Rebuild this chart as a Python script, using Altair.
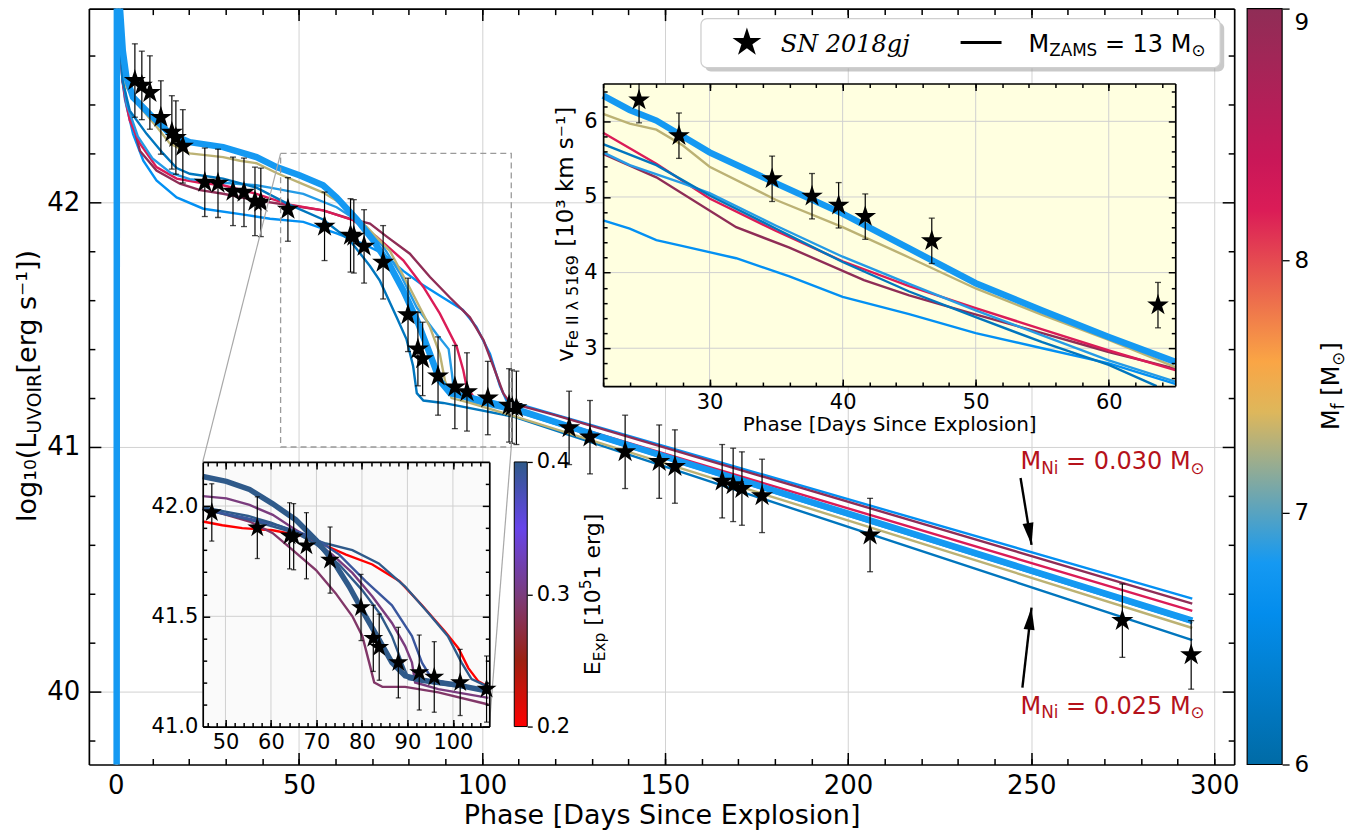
import altair as alt
import pandas as pd

W, H = 1147, 757
FONT = "DejaVu Sans"

# ---------------- observed SN 2018gj data ----------------
sn_phase = [5.2, 7.1, 9.3, 12.3, 15.3, 16.4, 18.3, 24.3, 27.9, 32.0, 35.0, 38.0, 39.6,
            47.0, 57.0, 64.1, 65.0, 67.8, 73.0, 79.8, 82.5, 83.8, 88.0, 92.6, 95.9,
            101.6, 107.4, 108.2, 109.4, 123.8, 129.5, 139.1, 148.4, 152.7, 165.6,
            168.6, 171.0, 176.5, 206.0, 274.9, 293.7]
sn_logL = [42.498, 42.478, 42.449, 42.347, 42.286, 42.265, 42.229, 42.082, 42.078, 42.045, 42.041, 42.004, 42.000,
           41.971, 41.902, 41.865, 41.861, 41.820, 41.755, 41.540, 41.400, 41.360, 41.290, 41.245, 41.225,
           41.200, 41.170, 41.165, 41.160, 41.078, 41.040, 40.980, 40.940, 40.920, 40.860,
           40.845, 40.830, 40.800, 40.640, 40.290, 40.150]
sn_err = [0.15, 0.14, 0.15, 0.15, 0.15, 0.15, 0.15, 0.14, 0.14, 0.14, 0.14, 0.14, 0.14,
          0.13, 0.14, 0.15, 0.15, 0.15, 0.15, 0.15, 0.15, 0.15, 0.16, 0.17, 0.16,
          0.15, 0.15, 0.15, 0.15, 0.15, 0.15, 0.15, 0.15, 0.15, 0.15,
          0.15, 0.15, 0.15, 0.15, 0.15, 0.14]

vel_phase = [24.7, 27.7, 34.7, 37.7, 39.7, 41.7, 46.7, 63.7]
vel_v = [6.28, 5.81, 5.24, 5.01, 4.89, 4.74, 4.42, 3.57]
vel_err = [0.30, 0.30, 0.30, 0.30, 0.30, 0.30, 0.30, 0.30]

# ---------------- model light curves (M_ZAMS = 13) ----------------
mf_thick, mf_tan, mf_dark, mf_lightA, mf_crimson, mf_maroon, mf_lightB = 6.8, 7.3, 6.2, 6.85, 8.2, 9.0, 6.65

lc_thick_t = [0.2, 0.3, 1.1, 1.9, 2.9, 4.7, 9.3, 14.8, 20.2, 29.3, 38.4, 43.9, 50.3, 56.6, 60.3, 65.8, 70.3,
              74.9, 78.5, 82.2, 85.8, 88.5, 91.3, 101.3, 108.6, 129.5, 294]
lc_thick_L = [38.5, 44.0, 42.8, 42.62, 42.51, 42.43, 42.36, 42.28, 42.246, 42.226, 42.185, 42.144, 42.11, 42.07,
              42.02, 41.93, 41.845, 41.74, 41.64, 41.52, 41.38, 41.27, 41.22, 41.185, 41.158, 41.056, 40.29]
lc_tan_t = [0.2, 0.3, 1.1, 1.9, 2.9, 6.6, 11.1, 14.8, 20.2, 29.3, 33.9, 38.4, 43.9, 50.3, 56.6, 62.1, 68.5,
            74.9, 80.3, 85.8, 88.5, 89.9, 91.7, 96.7, 110, 294]
lc_tan_L = [38.5, 44.0, 42.75, 42.57, 42.47, 42.39, 42.31, 42.24, 42.20, 42.185, 42.17, 42.16, 42.12, 42.08,
            42.04, 41.99, 41.90, 41.80, 41.65, 41.49, 41.38, 41.27, 41.20, 41.18, 41.12, 40.26]
lc_dark_t = [0.2, 0.3, 1.0, 1.8, 3.8, 8.4, 12.9, 16.6, 20.2, 29.3, 38.4, 47.5, 56.6, 63.9, 69.4, 72.1, 76.7,
             79.4, 81.2, 82.2, 84.0, 89.4, 108.6, 294]
lc_dark_L = [38.5, 44.0, 42.7, 42.5, 42.375, 42.28, 42.20, 42.14, 42.117, 42.097, 42.06, 41.99, 41.93, 41.845,
             41.74, 41.68, 41.53, 41.44, 41.33, 41.22, 41.19, 41.18, 41.124, 40.21]
lc_lightA_t = [0.2, 0.3, 1.0, 1.8, 3.0, 6.0, 10.0, 15.0, 20.2, 29.3, 38.4, 42.1, 51.2, 60.3, 67.6, 73.0, 77.6,
               82.2, 87.7, 90.9, 91.8, 92.4, 96.9, 110, 294]
lc_lightA_L = [38.5, 44.0, 42.72, 42.52, 42.40, 42.27, 42.18, 42.12, 42.095, 42.08, 42.07, 42.06, 42.035, 41.98,
               41.91, 41.82, 41.71, 41.57, 41.46, 41.40, 41.30, 41.22, 41.185, 41.14, 40.28]
lc_crimson_t = [0.2, 0.3, 1.0, 1.8, 2.5, 3.8, 6.6, 11.1, 16.6, 23.0, 29.3, 38.4, 47.5, 56.6, 64.8, 71.2, 78.5,
                84.0, 88.5, 93.1, 94.9, 95.8, 98.6, 110, 294]
lc_crimson_L = [38.5, 44.0, 42.7, 42.5, 42.43, 42.335, 42.24, 42.144, 42.097, 42.08, 42.07, 42.035, 41.99, 41.967,
                41.927, 41.86, 41.763, 41.654, 41.545, 41.41, 41.314, 41.246, 41.185, 41.15, 40.33]
lc_maroon_t = [0.2, 0.3, 1.0, 1.8, 2.9, 6.6, 11.1, 17.5, 23.0, 29.3, 38.4, 47.5, 56.6, 63.9, 69.4, 74.0, 80.3,
               85.8, 91.3, 96.7, 100.4, 103.1, 105.8, 107.7, 120, 294]
lc_maroon_L = [38.5, 44.0, 42.7, 42.5, 42.416, 42.21, 42.13, 42.076, 42.05, 42.035, 42.008, 41.988, 41.967, 41.933,
               41.913, 41.86, 41.79, 41.695, 41.61, 41.53, 41.437, 41.33, 41.22, 41.18, 41.13, 40.36]
lc_lightB_t = [0.2, 0.3, 1.0, 1.8, 2.5, 4.7, 7.5, 11.1, 16.6, 23.9, 34.9, 42.1, 51.2, 60.3, 67.6, 73.0, 78.5,
               83.0, 89.4, 94.8, 98.5, 102.2, 104.9, 106.7, 294]
lc_lightB_L = [38.5, 44.0, 42.7, 42.5, 42.42, 42.28, 42.17, 42.09, 42.02, 41.974, 41.95, 41.933, 41.92, 41.873,
               41.83, 41.79, 41.72, 41.67, 41.61, 41.56, 41.49, 41.38, 41.25, 41.19, 40.38]

# ---------------- model Fe II velocities ----------------
v_thick_t = [22, 24, 26, 30, 35, 40, 45, 50, 55, 60, 65]
v_thick_v = [6.34, 6.15, 6.01, 5.59, 5.18, 4.78, 4.32, 3.86, 3.50, 3.15, 2.82]
v_tan_t = [22, 24, 26, 28, 30, 35, 40, 45, 50, 55, 60, 65]
v_tan_v = [6.10, 5.97, 5.89, 5.68, 5.40, 4.96, 4.60, 4.20, 3.79, 3.44, 3.11, 2.75]
v_crimson_t = [22, 26, 30, 35, 40, 45, 50, 55, 60, 65]
v_crimson_v = [5.85, 5.44, 4.98, 4.55, 4.15, 3.82, 3.53, 3.25, 2.97, 2.71]
v_dark_t = [22, 26, 30, 35, 40, 45, 50, 55, 60, 63.6]
v_dark_v = [5.70, 5.42, 5.02, 4.58, 4.14, 3.75, 3.41, 3.08, 2.78, 2.50]
v_lightA_t = [22, 24, 28, 30, 35, 40, 45, 50, 55, 60, 65]
v_lightA_v = [5.59, 5.42, 5.18, 5.05, 4.62, 4.21, 3.85, 3.50, 3.17, 2.84, 2.56]
v_maroon_t = [22, 26, 32, 36, 41.6, 45, 49.7, 55, 60, 65]
v_maroon_v = [5.57, 5.26, 4.60, 4.33, 3.90, 3.70, 3.46, 3.20, 2.95, 2.73]
v_lightB_t = [22, 24, 26, 28, 32, 36, 40, 45, 50, 55, 60, 65]
v_lightB_v = [4.69, 4.58, 4.43, 4.35, 4.19, 3.95, 3.68, 3.45, 3.20, 3.00, 2.80, 2.53]

# ---------------- explosion-energy models (zoom inset) ----------------
e_thick, e_red, e_purA, e_purB, e_stA, e_stB, e_stC = 0.40, 0.20, 0.30, 0.29, 0.40, 0.39, 0.40
ee_thick_t = [45, 50.2, 55.3, 60.4, 65.5, 69.9, 73.5, 77.2, 80.8, 83.7, 86.6, 89.5, 93.2, 100.5, 107.8]
ee_thick_L = [42.134, 42.112, 42.075, 42.01, 41.937, 41.846, 41.756, 41.635, 41.50, 41.396, 41.29, 41.23, 41.21, 41.19, 41.16]
ee_red_t = [45, 49.3, 53.7, 60.4, 67.7, 72.1, 76.5, 82.3, 88.2, 93.2, 98.3, 101.2, 103.4, 105.6, 107.8]
ee_red_L = [41.93, 41.913, 41.90, 41.89, 41.86, 41.82, 41.78, 41.735, 41.66, 41.55, 41.43, 41.355, 41.265, 41.205, 41.18]
ee_purA_t = [45, 50.2, 55.3, 60.4, 64.8, 69.2, 73.5, 77.9, 82.3, 86.6, 89.5, 91.0, 91.7, 96.8, 107.8]
ee_purA_L = [42.045, 42.035, 42.005, 41.96, 41.90, 41.846, 41.78, 41.697, 41.59, 41.47, 41.365, 41.29, 41.20, 41.17, 41.13]
ee_purB_t = [45, 50.2, 55.3, 60.4, 64.8, 69.9, 74.2, 77.9, 80.1, 81.6, 82.7, 84.5, 89.5, 96.8, 107.8]
ee_purB_L = [41.99, 41.96, 41.93, 41.877, 41.80, 41.71, 41.605, 41.50, 41.41, 41.29, 41.20, 41.18, 41.18, 41.155, 41.10]
ee_stA_t = [45, 55, 65, 72.1, 77.9, 83.7, 89.5, 94.6, 98.9, 101.9, 104.1, 107.8]
ee_stA_L = [41.985, 41.94, 41.88, 41.83, 41.80, 41.74, 41.635, 41.515, 41.41, 41.29, 41.215, 41.18]
ee_stB_t = [45, 53.7, 61.9, 69.2, 75.0, 80.8, 86.6, 91.0, 93.2, 95.4, 100.5, 107.8]
ee_stB_L = [41.986, 41.95, 41.91, 41.86, 41.78, 41.66, 41.55, 41.41, 41.29, 41.215, 41.19, 41.155]
ee_stC_t = [45, 50, 55, 60, 65, 70, 75, 80, 84, 86.6, 88.8, 90.3, 95, 100, 107.8]
ee_stC_L = [41.995, 41.975, 41.955, 41.925, 41.885, 41.825, 41.735, 41.62, 41.51, 41.41, 41.29, 41.215, 41.2, 41.185, 41.165]

# ---------------- annotation values ----------------
ni_labels = ["0.030", "0.025"]
ni_arrow_tail_t = [247.1, 247.6]
ni_arrow_tail_L = [40.873, 40.016]
ni_arrow_tip_t = [250.1, 250.1]
ni_arrow_tip_L = [40.60, 40.343]

# colour maps
MF_DOMAIN = [6.0, 6.75, 7.5, 8.25, 9.0]
MF_COLORS = ["#006ba6", "#0496ff", "#ffbc42", "#d81159", "#8f2d56"]
E_DOMAIN = [0.2, 0.25, 0.3, 0.35, 0.4]
E_COLORS = ["#ff0000", "#9c2112", "#7a3c7e", "#6744ea", "#2f5a8a"]

STAR = ("M0,-1L0.2245,-0.309L0.9511,-0.309L0.3633,0.118L0.5878,0.809L0,0.382"
        "L-0.5878,0.809L-0.3633,0.118L-0.9511,-0.309L-0.2245,-0.309Z")
HEAD = "M0,0L-0.5,-2L0.5,-2Z"

# ---------------- scales ----------------
MX = ([-7.364, 305.45], [0, W])
MY = ([39.702, 42.792], [H, 0])
I1X = ([22, 65], [515, 1088])
I1Y = ([2.5, 6.5], [378, 75])
I2X = ([45, 108], [114, 401])
I2Y = ([41.0, 42.2], [719, 454])
MFY = ([6, 9], [H, 0])
EY = ([0.2, 0.4], [719, 454])


def S(sc, clamp=False):
    kw = dict(domain=sc[0], range=sc[1], nice=False, zero=False)
    if clamp:
        kw["clamp"] = True
    return alt.Scale(**kw)


def ax(**kw):
    base = dict(labelFont=FONT, labelColor="black", titleFont=FONT, titleColor="black",
                titleFontWeight="normal", grid=False, domain=False, ticks=False, labels=False,
                title=None, labelFlush=False, labelOverlap=False)
    base.update(kw)
    return alt.Axis(**base)


def axis_layer(xs, ys, xaxis=None, yaxis=None):
    d = pd.DataFrame({"a": [xs[0][0]], "b": [ys[0][0]]})
    return alt.Chart(d).mark_point(opacity=0).encode(
        x=alt.X("a:Q", scale=S(xs), axis=xaxis),
        y=alt.Y("b:Q", scale=S(ys), axis=yaxis))


def frame_axes(xs, ys, x0, x1, y0, y1, xmaj, xmin, ymaj, ymin, big, small, z):
    TK = dict(ticks=True, tickColor="black", tickWidth=1.5, zindex=z)
    DM = dict(domain=True, domainColor="black", domainWidth=1.7)
    out = []
    out.append(axis_layer(xs, ys, ax(orient="top", offset=-y1, values=xmaj, tickSize=big, **TK, **DM),
                          ax(orient="right", offset=x0 - W, values=ymaj, tickSize=big, **TK, **DM)))
    out.append(axis_layer(xs, ys, ax(orient="top", offset=-y1, values=xmin, tickSize=small, **TK),
                          ax(orient="right", offset=x0 - W, values=ymin, tickSize=small, **TK)))
    out.append(axis_layer(xs, ys, ax(orient="bottom", offset=y0 - H, values=xmaj, tickSize=big, **TK, **DM),
                          ax(orient="left", offset=-x1, values=ymaj, tickSize=big, **TK, **DM)))
    out.append(axis_layer(xs, ys, ax(orient="bottom", offset=y0 - H, values=xmin, tickSize=small, **TK),
                          ax(orient="left", offset=-x1, values=ymin, tickSize=small, **TK)))
    return out


def models_df(models):
    rows = []
    for name, val, ts, ys in models:
        for i, (t, y) in enumerate(zip(ts, ys)):
            rows.append(dict(model=name, m=val, t=t, L=y, i=i))
    return pd.DataFrame(rows)


def line_layer(df, xs, ys, width, cscale, legend=None, clip=False):
    return alt.Chart(df).mark_line(strokeWidth=width, clip=clip).encode(
        x=alt.X("t:Q", scale=S(xs), axis=None),
        y=alt.Y("L:Q", scale=S(ys), axis=None),
        color=alt.Color("m:Q", scale=cscale, legend=legend),
        detail="model:N",
        order=alt.Order("i:Q"))


def err_layers(t, y, e, xs, ys, clamp=False, cap=6):
    lo = [a - b for a, b in zip(y, e)]
    hi = [a + b for a, b in zip(y, e)]
    d = pd.DataFrame({"t": t, "lo": lo, "hi": hi})
    bars = alt.Chart(d).mark_rule(color="black", strokeWidth=1.2).encode(
        x=alt.X("t:Q", scale=S(xs), axis=None),
        y=alt.Y("lo:Q", scale=S(ys, clamp), axis=None),
        y2="hi:Q")
    ct, cv = [], []
    for a, l, h in zip(t, lo, hi):
        for v in (l, h):
            if ys[0][0] <= v <= ys[0][1]:
                ct.append(a)
                cv.append(v)
    caps = alt.Chart(pd.DataFrame({"t": ct, "v": cv})).mark_tick(
        orient="horizontal", size=cap, thickness=1.3, color="black").encode(
        x=alt.X("t:Q", scale=S(xs), axis=None),
        y=alt.Y("v:Q", scale=S(ys), axis=None))
    return [bars, caps]


def star_layer(t, y, xs, ys, size):
    d = pd.DataFrame({"t": t, "y": y})
    return alt.Chart(d).mark_point(shape=STAR, filled=True, color="black", opacity=1,
                                   size=size, strokeWidth=0).encode(
        x=alt.X("t:Q", scale=S(xs), axis=None),
        y=alt.Y("y:Q", scale=S(ys), axis=None))


# ---------------- rich text helper ----------------
CW = {" ": 0.318, "(": 0.390, ")": 0.390, "[": 0.390, "]": 0.390, "=": 0.838, ".": 0.318,
      "⁻": 0.50, "¹": 0.40, "³": 0.40, "₁": 0.40, "₀": 0.40, "⊙": 0.838, "λ": 0.592,
      "A": 0.684, "D": 0.770, "E": 0.632, "F": 0.575, "I": 0.295, "L": 0.557, "M": 0.863,
      "N": 0.748, "O": 0.787, "P": 0.603, "R": 0.695, "S": 0.635, "U": 0.732, "V": 0.684,
      "Z": 0.685, "a": 0.613, "c": 0.550, "d": 0.635, "e": 0.615, "f": 0.352, "g": 0.635,
      "h": 0.634, "i": 0.278, "j": 0.278, "k": 0.579, "l": 0.278, "m": 0.974, "n": 0.634,
      "o": 0.612, "p": 0.635, "r": 0.411, "s": 0.521, "t": 0.392, "v": 0.592, "x": 0.592,
      "y": 0.592}
for _d in "0123456789":
    CW[_d] = 0.636


def tw(s, f):
    return sum(CW.get(ch, 0.6) for ch in s) * f


def rich(segs, x0, y0, fs, angle=0, color="black", center=False):
    items, pos = [], 0.0
    for s, kind in segs:
        f = fs if kind == "n" else round(fs * 0.7, 1)
        shift = 0.0 if kind == "n" else (0.2 * fs if kind == "sub" else -0.42 * fs)
        pos += (len(s) - len(s.lstrip(" "))) * CW[" "] * f
        core = s.strip(" ")
        items.append((core, f, shift, pos))
        pos += tw(core, f)
        pos += (len(s) - len(s.rstrip(" "))) * CW[" "] * f
    total = pos
    rows = []
    for core, f, shift, p in items:
        if angle == 0:
            rows.append(dict(t=core, x=x0 + p, y=y0 + shift, fs=f, a=0, c=color))
        else:
            start = y0 + total / 2 if center else y0
            rows.append(dict(t=core, x=x0 + shift, y=start - p, fs=f, a=270, c=color))
    return rows


def text_layer(rows, font=FONT, style="normal"):
    return alt.Chart(pd.DataFrame(rows)).mark_text(
        align="left", baseline="alphabetic", font=font, fontStyle=style).encode(
        x=alt.X("x:Q", scale=None), y=alt.Y("y:Q", scale=None), text="t:N",
        size=alt.Size("fs:Q", scale=None), angle=alt.Angle("a:Q", scale=None),
        color=alt.Color("c:N", scale=None))


mf_scale = alt.Scale(domain=MF_DOMAIN, range=MF_COLORS, interpolate="rgb")
e_scale = alt.Scale(domain=E_DOMAIN, range=E_COLORS, interpolate="rgb")

layers = []

# ---------- main axes with grid ----------
xt_major = [0, 50, 100, 150, 200, 250, 300]
xt_minor = list(range(0, 301, 10))
yt_major = [40, 41, 42]
yt_minor = [39.8, 40.2, 40.4, 40.6, 40.8, 41.2, 41.4, 41.6, 41.8, 42.2, 42.4, 42.6]
layers.append(axis_layer(
    MX, MY,
    ax(orient="bottom", values=xt_major, labels=True, labelFontSize=26, labelPadding=8, tickSize=0,
       grid=True, gridColor="#d2d2d2", gridWidth=1, title="Phase [Days Since Explosion]",
       titleFontSize=27, titlePadding=4),
    ax(orient="left", values=yt_major, labels=True, labelFontSize=26, labelPadding=9, tickSize=0,
       grid=True, gridColor="#d2d2d2", gridWidth=1, format="d")))

# ---------- main model light curves ----------
lc_thin = models_df([
    ("lightB", mf_lightB, lc_lightB_t, lc_lightB_L),
    ("maroon", mf_maroon, lc_maroon_t, lc_maroon_L),
    ("crimson", mf_crimson, lc_crimson_t, lc_crimson_L),
    ("lightA", mf_lightA, lc_lightA_t, lc_lightA_L),
    ("dark", mf_dark, lc_dark_t, lc_dark_L),
    ("tan", mf_tan, lc_tan_t, lc_tan_L)])
lc_best = models_df([("thick", mf_thick, lc_thick_t, lc_thick_L)])
mf_legend = alt.Legend(orient="none", legendX=1160, legendY=0, direction="vertical", type="gradient",
                       gradientLength=H, gradientThickness=35, title=None, labelExpr="''",
                       gradientStrokeColor="black", gradientStrokeWidth=1.2, padding=0)
layers.append(line_layer(lc_thin, MX, MY, 2.4, mf_scale, legend=mf_legend, clip=True))
layers.append(line_layer(lc_best, MX, MY, 6.5, mf_scale, clip=True))
layers += err_layers(sn_phase, sn_logL, sn_err, MX, MY, cap=6)
layers.append(star_layer(sn_phase, sn_logL, MX, MY, 540))

# ---------- zoom box and connectors ----------
box = pd.DataFrame({"x0": [45.0], "x1": [108.0], "y0": [41.0], "y1": [42.2]})
layers.append(alt.Chart(box).mark_rect(fillOpacity=0, stroke="#9a9a9a", strokeWidth=1.3,
                                       strokeDash=[6, 4]).encode(
    x=alt.X("x0:Q", scale=S(MX), axis=None), x2="x1:Q",
    y=alt.Y("y0:Q", scale=S(MY), axis=None), y2="y1:Q"))
conn = pd.DataFrame({"x": [45.0, 108.0], "y": [42.2, 41.0], "x2": [23.73, 102.0], "y2": [40.939, 39.857]})
layers.append(alt.Chart(conn).mark_rule(color="#a8a8a8", strokeWidth=1.2).encode(
    x=alt.X("x:Q", scale=S(MX), axis=None), x2="x2:Q",
    y=alt.Y("y:Q", scale=S(MY), axis=None), y2="y2:Q"))

# ---------- M_Ni arrows ----------
arr = pd.DataFrame({"x": ni_arrow_tail_t, "y": ni_arrow_tail_L, "x2": ni_arrow_tip_t, "y2": ni_arrow_tip_L})
layers.append(alt.Chart(arr).mark_rule(color="black", strokeWidth=2.4).encode(
    x=alt.X("x:Q", scale=S(MX), axis=None), x2="x2:Q",
    y=alt.Y("y:Q", scale=S(MY), axis=None), y2="y2:Q"))
heads = pd.DataFrame({"x": ni_arrow_tip_t, "y": ni_arrow_tip_L, "ang": [350.7, 186.4]})
layers.append(alt.Chart(heads).mark_point(shape=HEAD, filled=True, color="black", opacity=1,
                                          size=484, strokeWidth=0).encode(
    x=alt.X("x:Q", scale=S(MX), axis=None),
    y=alt.Y("y:Q", scale=S(MY), axis=None),
    angle=alt.Angle("ang:Q", scale=None)))

# ---------- inset 1: Fe II velocities ----------
bg1 = pd.DataFrame({"x0": [22.0], "x1": [65.0], "y0": [2.5], "y1": [6.5]})
layers.append(alt.Chart(bg1).mark_rect(fill="#ffffe0", stroke=None).encode(
    x=alt.X("x0:Q", scale=S(I1X), axis=None), x2="x1:Q",
    y=alt.Y("y0:Q", scale=S(I1Y), axis=None), y2="y1:Q"))
g1v = pd.DataFrame({"g": [30, 40, 50, 60], "lo": [2.5] * 4, "hi": [6.5] * 4})
layers.append(alt.Chart(g1v).mark_rule(color="#d0d0d0", strokeWidth=1).encode(
    x=alt.X("g:Q", scale=S(I1X), axis=None),
    y=alt.Y("lo:Q", scale=S(I1Y), axis=None), y2="hi:Q"))
g1h = pd.DataFrame({"g": [3, 4, 5, 6], "lo": [22.0] * 4, "hi": [65.0] * 4})
layers.append(alt.Chart(g1h).mark_rule(color="#d0d0d0", strokeWidth=1).encode(
    y=alt.Y("g:Q", scale=S(I1Y), axis=None),
    x=alt.X("lo:Q", scale=S(I1X), axis=None), x2="hi:Q"))
v_thin = models_df([
    ("lightB", mf_lightB, v_lightB_t, v_lightB_v),
    ("maroon", mf_maroon, v_maroon_t, v_maroon_v),
    ("crimson", mf_crimson, v_crimson_t, v_crimson_v),
    ("lightA", mf_lightA, v_lightA_t, v_lightA_v),
    ("dark", mf_dark, v_dark_t, v_dark_v),
    ("tan", mf_tan, v_tan_t, v_tan_v)])
v_best = models_df([("thick", mf_thick, v_thick_t, v_thick_v)])
layers.append(line_layer(v_thin, I1X, I1Y, 2.4, mf_scale))
layers.append(line_layer(v_best, I1X, I1Y, 6.5, mf_scale))
layers += err_layers(vel_phase, vel_v, vel_err, I1X, I1Y, clamp=True, cap=6)
layers.append(star_layer(vel_phase, vel_v, I1X, I1Y, 520))

# ---------- inset 2: explosion energies ----------
bg2 = pd.DataFrame({"x0": [45.0], "x1": [108.0], "y0": [41.0], "y1": [42.2]})
layers.append(alt.Chart(bg2).mark_rect(fill="#fafafa", stroke=None).encode(
    x=alt.X("x0:Q", scale=S(I2X), axis=None), x2="x1:Q",
    y=alt.Y("y0:Q", scale=S(I2Y), axis=None), y2="y1:Q"))
g2v = pd.DataFrame({"g": [50, 60, 70, 80, 90, 100], "lo": [41.0] * 6, "hi": [42.2] * 6})
layers.append(alt.Chart(g2v).mark_rule(color="#d0d0d0", strokeWidth=1).encode(
    x=alt.X("g:Q", scale=S(I2X), axis=None),
    y=alt.Y("lo:Q", scale=S(I2Y), axis=None), y2="hi:Q"))
g2h = pd.DataFrame({"g": [41.5, 42.0], "lo": [45.0] * 2, "hi": [108.0] * 2})
layers.append(alt.Chart(g2h).mark_rule(color="#d0d0d0", strokeWidth=1).encode(
    y=alt.Y("g:Q", scale=S(I2Y), axis=None),
    x=alt.X("lo:Q", scale=S(I2X), axis=None), x2="hi:Q"))
e_thin = models_df([
    ("red", e_red, ee_red_t, ee_red_L),
    ("purA", e_purA, ee_purA_t, ee_purA_L),
    ("purB", e_purB, ee_purB_t, ee_purB_L),
    ("stA", e_stA, ee_stA_t, ee_stA_L),
    ("stB", e_stB, ee_stB_t, ee_stB_L),
    ("stC", e_stC, ee_stC_t, ee_stC_L)])
e_best = models_df([("thick", e_thick, ee_thick_t, ee_thick_L)])
e_legend = alt.Legend(orient="none", legendX=426, legendY=454, direction="vertical", type="gradient",
                      gradientLength=265, gradientThickness=13, title=None, labelExpr="''",
                      gradientStrokeColor="black", gradientStrokeWidth=1.0, padding=0)
layers.append(line_layer(e_thin, I2X, I2Y, 2.4, e_scale, legend=e_legend))
layers.append(line_layer(e_best, I2X, I2Y, 5.5, e_scale))
in2 = [(t, y, e) for t, y, e in zip(sn_phase, sn_logL, sn_err) if 45 <= t <= 108]
layers += err_layers([a[0] for a in in2], [a[1] for a in in2], [a[2] for a in in2], I2X, I2Y, clamp=True, cap=5)
layers.append(star_layer([a[0] for a in in2], [a[1] for a in in2], I2X, I2Y, 440))

# ---------- legend box ----------
shadow = pd.DataFrame({"x0": [617], "x1": [1137], "y0": [14], "y1": [63]})
layers.append(alt.Chart(shadow).mark_rect(cornerRadius=6, fill="#9c9c9c", opacity=0.55).encode(
    x=alt.X("x0:Q", scale=None), x2="x1:Q", y=alt.Y("y0:Q", scale=None), y2="y1:Q"))
lbox = pd.DataFrame({"x0": [613], "x1": [1133], "y0": [10], "y1": [59]})
layers.append(alt.Chart(lbox).mark_rect(cornerRadius=6, fill="white", stroke="#cfcfcf", strokeWidth=1.3).encode(
    x=alt.X("x0:Q", scale=None), x2="x1:Q", y=alt.Y("y0:Q", scale=None), y2="y1:Q"))
layers.append(alt.Chart(pd.DataFrame({"x": [659], "y": [34]})).mark_point(
    shape=STAR, filled=True, color="black", opacity=1, size=920, strokeWidth=0).encode(
    x=alt.X("x:Q", scale=None), y=alt.Y("y:Q", scale=None)))
layers.append(alt.Chart(pd.DataFrame({"x": [873], "x2": [914], "y": [34]})).mark_rule(
    color="black", strokeWidth=3).encode(
    x=alt.X("x:Q", scale=None), x2="x2:Q", y=alt.Y("y:Q", scale=None)))
layers.append(text_layer([dict(t="SN 2018gj", x=693, y=43, fs=24, a=0, c="black")],
                         font="DejaVu Serif", style="italic"))

# ---------- frames / ticks ----------
layers += frame_axes(MX, MY, 0, W, 0, H, xt_major, xt_minor, yt_major, yt_minor, 12, 6, 0)
layers.append(axis_layer(
    I1X, I1Y,
    ax(orient="bottom", offset=378 - H, values=[30, 40, 50, 60], labels=True, labelFontSize=21,
       labelPadding=5, tickSize=0, zindex=1, title="Phase [Days Since Explosion]", titleFontSize=20,
       titlePadding=3),
    ax(orient="left", offset=-515, values=[3, 4, 5, 6], labels=True, labelFontSize=21, labelPadding=6,
       tickSize=0, zindex=1, format="d")))
layers += frame_axes(I1X, I1Y, 515, 1088, 75, 378, [30, 40, 50, 60], list(range(22, 66, 2)),
                     [3, 4, 5, 6], [2.6, 2.8, 3.2, 3.4, 3.6, 3.8, 4.2, 4.4, 4.6, 4.8, 5.2, 5.4, 5.6, 5.8,
                                    6.2, 6.4], 7, 4, 1)
layers.append(axis_layer(
    I2X, I2Y,
    ax(orient="bottom", offset=719 - H, values=[50, 60, 70, 80, 90, 100], labels=True, labelFontSize=21,
       labelPadding=5, tickSize=0, zindex=1),
    ax(orient="left", offset=-114, values=[41.0, 41.5, 42.0], labels=True, labelFontSize=21,
       labelPadding=5, tickSize=0, zindex=1, format=".1f")))
layers += frame_axes(I2X, I2Y, 114, 401, 454, 719, [50, 60, 70, 80, 90, 100], list(range(46, 108, 2)),
                     [41.0, 41.5, 42.0], [41.1, 41.2, 41.3, 41.4, 41.6, 41.7, 41.8, 41.9, 42.1], 7, 4, 1)
# colour-bar tick axes
layers.append(axis_layer(
    MX, MFY, None,
    ax(orient="right", offset=1195 - W, values=[6, 7, 8, 9], labels=True, labelFontSize=23,
       labelPadding=5, ticks=True, tickSize=7, tickWidth=1.3, tickColor="black", zindex=1, format="d",
       labelBaseline={"condition": {"test": "datum.value >= 9", "value": "top"}, "value": "middle"},
       labelOffset={"condition": {"test": "datum.value >= 9", "value": 3}, "value": 0})))
layers.append(axis_layer(
    MX, EY, None,
    ax(orient="right", offset=439 - W, values=[0.2, 0.3, 0.4], labels=True, labelFontSize=21,
       labelPadding=4, ticks=True, tickSize=5, tickWidth=1.3, tickColor="black", zindex=1, format=".1f")))

# ---------- rich texts ----------
rows = []
rows += rich([("log₁₀(L", "n"), ("UVOIR", "sub"), ("[erg s⁻¹])", "n")], -53, 378, 27, angle=270, center=True)
rows += rich([("M", "n"), ("ZAMS", "sub"), (" = 13 M", "n"), ("⊙", "sub")], 941, 43, 24)
rows += rich([("v", "n"), ("Fe II λ 5169", "sub"), (" [10³ km s⁻¹]", "n")], 485, 226.5, 23,
             angle=270, center=True)
rows += rich([("M", "n"), ("f", "sub"), (" [M", "n"), ("⊙", "sub"), ("]", "n")], 1252, 378, 24,
             angle=270, center=True)
rows += rich([("E", "n"), ("Exp", "sub"), (" [10", "n"), ("5", "sup"), ("1 erg]", "n")], 512, 586.5, 22,
             angle=270, center=True)
for lab, yb in zip(ni_labels, [461, 706]):
    rows += rich([("M", "n"), ("Ni", "sub"), (" = " + lab + " M", "n"), ("⊙", "sub")], 933, yb, 24,
                 color="#b5121b")
layers.append(text_layer(rows))

chart = alt.layer(*layers).resolve_scale(
    x="independent", y="independent", color="independent"
).resolve_axis(x="independent", y="independent").resolve_legend(color="independent").properties(
    width=W, height=H,
    padding={"left": 81, "top": 0, "right": 130, "bottom": 75},
    autosize=alt.AutoSizeParams(type="none"),
    background="white",
).configure_view(stroke=None)

chart.save("out.html", embed_options={"renderer": "svg", "actions": False})
